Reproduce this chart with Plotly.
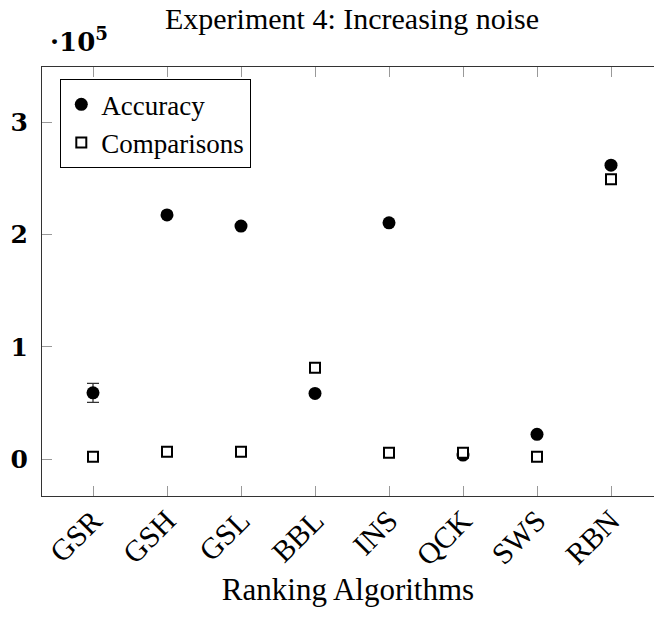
import plotly.graph_objects as go

algorithms = ["GSR", "GSH", "GSL", "BBL", "INS", "QCK", "SWS", "RBN"]
accuracy = [59000, 217700, 207700, 58500, 210600, 3500, 22000, 262000]
accuracy_err = [8500, 0, 0, 0, 0, 0, 0, 0]
comparisons = [2000, 6500, 6500, 81400, 5600, 5600, 2000, 249500]
y_ticks = [0, 100000, 200000, 300000]
y_tick_text = ["0", "1", "2", "3"]

SERIF = "Liberation Serif, DejaVu Serif, serif"
W, H = 654, 630
L, R, T, B = 42, 0, 67, 134

fig = go.Figure()
fig.add_trace(go.Scatter(
    x=list(range(len(algorithms))), y=accuracy, mode="markers", name="Accuracy",
    marker=dict(symbol="circle", size=13, color="black"),
    error_y=dict(type="data", array=accuracy_err, visible=True,
                 color="#333", thickness=1.3, width=6),
))
fig.add_trace(go.Scatter(
    x=list(range(len(algorithms))), y=comparisons, mode="markers", name="Comparisons",
    marker=dict(symbol="square", size=10, color="white",
                line=dict(color="black", width=2)),
))

fig.update_layout(
    width=W, height=H,
    margin=dict(l=L, r=R, t=T, b=B),
    plot_bgcolor="white", paper_bgcolor="white",
    font=dict(family=SERIF, color="black", size=22),
    title=dict(text="Experiment 4: Increasing noise", x=352 / W, xref="container",
               xanchor="center", y=1 - 18 / H, yref="container", yanchor="middle",
               font=dict(size=30, family=SERIF)),
    showlegend=True,
    legend=dict(x=(60 - L) / (W - L - R), y=(496 - 79) / (H - T - B),
                xanchor="left", yanchor="top", bgcolor="white",
                bordercolor="black", borderwidth=1.3,
                font=dict(size=27, family=SERIF), tracegroupgap=0,
                itemwidth=30),
)

fig.update_xaxes(
    range=[-51 / 74, 7 + 43 / 74],
    tickmode="array", tickvals=list(range(len(algorithms))), ticktext=algorithms,
    tickangle=-45, tickfont=dict(size=30, family=SERIF),
    ticks="inside", ticklen=10, tickcolor="#999", tickwidth=1,
    ticklabelstandoff=-6,
    showline=True, linecolor="#333", linewidth=1.3, mirror="ticks",
    showgrid=False, zeroline=False,
    title=dict(text="Ranking Algorithms", font=dict(size=31, family=SERIF), standoff=7),
)
fig.update_yaxes(
    range=[-33000, 349600],
    tickmode="array", tickvals=y_ticks, ticktext=y_tick_text,
    tickfont=dict(size=25, family="DejaVu Serif, serif", weight="bold"),
    ticks="inside", ticklen=10, tickcolor="#999", tickwidth=1,
    ticklabelstandoff=8,
    showline=True, linecolor="#333", linewidth=1.3, mirror=False,
    showgrid=False, zeroline=False,
)

fig.add_annotation(
    text="·10<sup>5</sup>", xref="paper", yref="paper",
    x=(48 - L) / (W - L - R), y=(496 - 40) / (H - T - B),
    xanchor="left", yanchor="middle", showarrow=False,
    font=dict(size=26, family="DejaVu Serif, serif", weight="bold"),
)

fig.write_html("out.html")
